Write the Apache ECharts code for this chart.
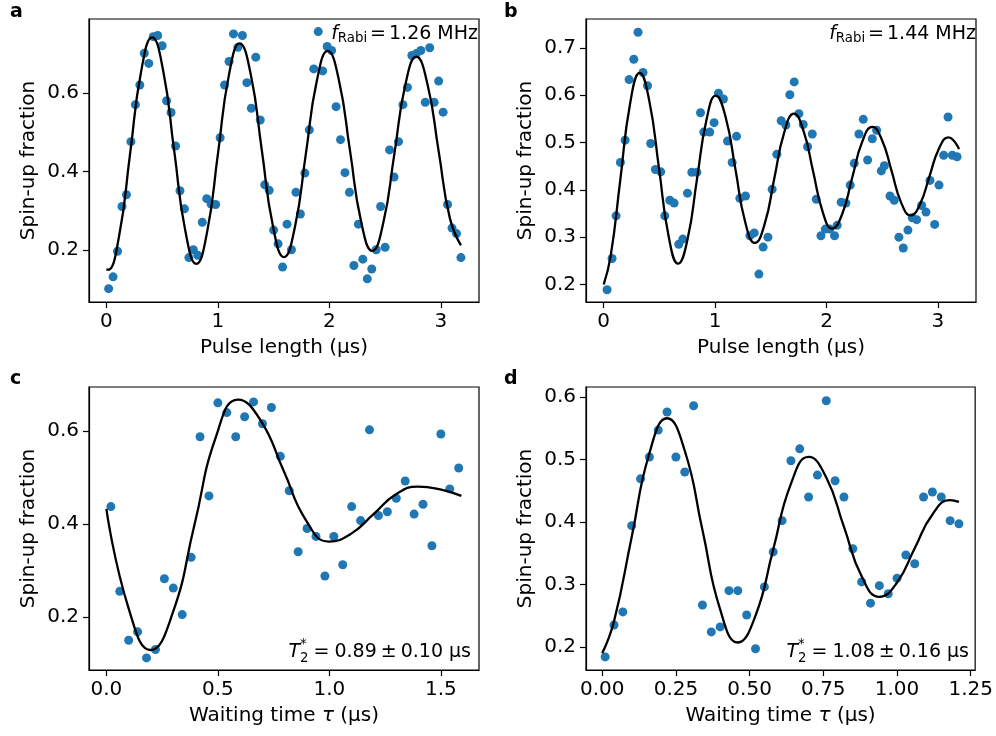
<!DOCTYPE html>
<html><head><meta charset="utf-8">
<script src="https://cdn.jsdelivr.net/npm/echarts@6/dist/echarts.min.js"></script>
<style>html,body{margin:0;padding:0;background:#fff}#c{width:996px;height:736px}</style>
</head><body><div id="c"></div>
<script>
// ---------- Panel a : Rabi, f = 1.26 MHz ----------
const aX = [0.02,0.06,0.10,0.14,0.18,0.22,0.26,0.30,0.34,0.38,
  0.42,0.46,0.50,0.54,0.58,0.62,0.66,0.70,0.74,0.78,
  0.82,0.86,0.90,0.94,0.98,1.02,1.06,1.10,1.14,1.18,
  1.22,1.26,1.30,1.34,1.38,1.42,1.46,1.50,1.54,1.58,
  1.62,1.66,1.70,1.74,1.78,1.82,1.86,1.90,1.94,1.98,
  2.02,2.06,2.10,2.14,2.18,2.22,2.26,2.30,2.34,2.38,
  2.42,2.46,2.50,2.54,2.58,2.62,2.66,2.70,2.74,2.78,
  2.82,2.86,2.90,2.94,2.98,3.02,3.06,3.10,3.14,3.18];
const aY = [0.102,0.132,0.197,0.311,0.341,0.476,0.570,0.620,0.701,0.675,
  0.743,0.746,0.720,0.580,0.550,0.465,0.351,0.305,0.181,0.201,
  0.187,0.271,0.331,0.317,0.316,0.486,0.620,0.680,0.750,0.716,
  0.746,0.626,0.561,0.691,0.531,0.366,0.352,0.251,0.216,0.157,
  0.266,0.201,0.347,0.292,0.396,0.506,0.661,0.756,0.656,0.718,
  0.708,0.565,0.481,0.397,0.347,0.161,0.266,0.177,0.127,0.152,
  0.201,0.311,0.207,0.455,0.386,0.476,0.570,0.614,0.695,0.700,
  0.708,0.576,0.715,0.576,0.630,0.551,0.316,0.256,0.242,0.181];
const aFitX = [0.0,0.015,0.114,0.213,0.312,0.41,0.509,0.608,0.708,0.807,0.904,1.001,1.098,1.195,
  1.295,1.394,1.494,1.593,1.691,1.789,1.887,1.985,2.085,2.185,2.285,2.385,
  2.484,2.583,2.681,2.78,2.88,2.98,3.08,3.18];
const aFitY = [0.151,0.150,0.236,0.446,0.655,0.741,0.657,0.453,0.249,0.165,0.247,0.446,0.644,0.726,
  0.647,0.454,0.261,0.182,0.259,0.445,0.630,0.707,0.633,0.453,0.272,0.198,
  0.270,0.445,0.620,0.692,0.622,0.452,0.282,0.212];

// ---------- Panel b : Rabi, f = 1.44 MHz ----------
const bX = [0.030,0.075,0.111,0.150,0.192,0.228,0.270,0.308,0.353,0.393,
  0.422,0.464,0.512,0.548,0.593,0.632,0.674,0.710,0.752,0.791,
  0.836,0.869,0.898,0.952,0.991,1.030,1.075,1.111,1.153,1.192,
  1.222,1.273,1.312,1.351,1.393,1.431,1.474,1.512,1.554,1.593,
  1.635,1.671,1.710,1.752,1.791,1.830,1.872,1.908,1.950,1.989,
  2.030,2.072,2.096,2.132,2.174,2.213,2.249,2.291,2.330,2.369,
  2.411,2.450,2.492,2.519,2.570,2.608,2.650,2.689,2.731,2.770,
  2.809,2.854,2.893,2.929,2.971,3.010,3.052,3.091,3.130,3.172];
const bY = [0.189,0.255,0.345,0.458,0.505,0.633,0.676,0.733,0.648,0.620,
  0.498,0.443,0.438,0.345,0.378,0.372,0.285,0.296,0.393,0.437,
  0.437,0.563,0.522,0.522,0.542,0.604,0.592,0.503,0.458,0.513,
  0.382,0.387,0.303,0.309,0.222,0.279,0.300,0.401,0.475,0.546,
  0.537,0.601,0.628,0.561,0.538,0.491,0.518,0.380,0.303,0.317,
  0.317,0.303,0.325,0.374,0.372,0.410,0.456,0.518,0.549,0.463,
  0.508,0.526,0.440,0.451,0.387,0.378,0.300,0.277,0.315,0.341,
  0.337,0.367,0.353,0.420,0.327,0.410,0.473,0.554,0.473,0.470];
const bFitX = [0.0,0.063,0.149,0.236,0.323,0.409,0.496,0.582,0.668,0.753,0.837,0.922,1.006,
  1.094,1.182,1.269,1.357,1.445,1.532,1.620,1.707,1.793,1.879,1.965,2.051,
  2.141,2.231,2.321,2.411,2.497,2.584,2.670,2.756,2.840,2.925,3.009,3.094,3.19];
const bFitY = [0.200,0.261,0.421,0.581,0.647,0.588,0.446,0.303,0.244,0.296,0.422,0.547,0.599,
  0.554,0.444,0.333,0.288,0.328,0.425,0.521,0.561,0.525,0.440,0.354,0.318,
  0.349,0.426,0.502,0.533,0.506,0.440,0.373,0.346,0.370,0.429,0.487,0.511,0.486];

// ---------- Panel c : Ramsey, T2* = 0.89 us ----------
const cX = [0.02,0.06,0.10,0.14,0.18,0.22,0.26,0.30,0.34,0.38,
  0.42,0.46,0.50,0.54,0.58,0.62,0.66,0.70,0.74,0.78,
  0.82,0.86,0.90,0.94,0.98,1.02,1.06,1.10,1.14,1.18,
  1.22,1.26,1.30,1.34,1.38,1.42,1.46,1.50,1.54,1.58];
const cY = [0.437,0.255,0.150,0.168,0.112,0.130,0.282,0.262,0.205,0.328,
  0.587,0.460,0.660,0.639,0.587,0.630,0.662,0.615,0.650,0.545,
  0.471,0.340,0.390,0.373,0.288,0.373,0.312,0.437,0.407,0.602,
  0.418,0.426,0.455,0.492,0.421,0.442,0.353,0.593,0.475,0.520];
const cFitX = [0.0,0.1,0.199,0.297,0.395,0.492,0.59,0.692,0.794,0.896,0.998,1.098,1.198,1.297,1.397,1.497,1.592];
const cFitY = [0.432,0.218,0.129,0.208,0.398,0.588,0.667,0.622,0.515,0.407,0.362,0.379,0.421,0.463,0.480,0.474,0.460];

// ---------- Panel d : Ramsey, T2* = 1.08 us ----------
const dX = [0.01,0.04,0.07,0.10,0.13,0.16,0.19,0.22,0.25,0.28,
  0.31,0.34,0.37,0.40,0.43,0.46,0.49,0.52,0.55,0.58,
  0.61,0.64,0.67,0.70,0.73,0.76,0.79,0.82,0.85,0.88,
  0.91,0.94,0.97,1.00,1.03,1.06,1.09,1.12,1.15,1.18,1.21];
const dY = [0.184,0.235,0.256,0.394,0.469,0.504,0.547,0.576,0.504,0.480,
  0.586,0.267,0.224,0.232,0.290,0.290,0.251,0.197,0.296,0.352,
  0.402,0.498,0.517,0.440,0.475,0.594,0.466,0.440,0.357,0.304,
  0.270,0.298,0.285,0.310,0.347,0.333,0.440,0.448,0.440,0.402,0.397];
const dFitX = [0.0,0.04,0.10,0.16,0.22,0.28,0.34,0.40,0.46,0.52,0.58,0.64,0.70,0.76,0.82,0.88,0.94,1.00,1.06,1.12,1.18,1.21];
const dFitY = [0.190,0.241,0.376,0.510,0.566,0.514,0.387,0.260,0.207,0.250,0.356,0.461,0.504,0.471,0.392,0.313,0.280,0.303,0.358,0.412,0.435,0.432];

// ---------- tick labels ----------
const abXTicks = [0, 1, 2, 3];
const aYTicks = [0.2, 0.4, 0.6];
const bYTicks = [0.2, 0.3, 0.4, 0.5, 0.6, 0.7];
const cXTicks = [0.0, 0.5, 1.0, 1.5];
const cYTicks = [0.2, 0.4, 0.6];
const dXTicks = [0.00, 0.25, 0.50, 0.75, 1.00, 1.25];
const dYTicks = [0.2, 0.3, 0.4, 0.5, 0.6];

const F = 'DejaVu Sans';
const FS = 20;
const AS = 19;   // annotation font size
const BLUE = '#1f77b4';

const grids = [
  {left: 89, top: 19, width: 390, height: 283},
  {left: 586, top: 19, width: 390, height: 283},
  {left: 89, top: 387, width: 390, height: 283},
  {left: 586, top: 387, width: 390, height: 283}
].map(g => Object.assign(g, {show: true, borderColor: '#000', borderWidth: 1.2, backgroundColor: 'transparent', containLabel: false}));

function axis(gi, min, max, ticks, dig, name, isY) {
  return {
    type: 'value', gridIndex: gi, min: min, max: max,
    name: name, nameLocation: 'middle', nameGap: isY ? 50 : 36,
    nameTextStyle: {fontSize: FS, color: '#000', fontFamily: F,
      rich: {n: {fontSize: FS, fontFamily: F, color: '#000'}, i: {fontSize: FS, fontFamily: F, fontStyle: 'italic', color: '#000'}}},
    axisLine: {show: true, onZero: false, lineStyle: {color: '#000', width: 1.2}},
    axisTick: {show: true, customValues: ticks, length: 6, lineStyle: {color: '#000', width: 1.2}},
    axisLabel: {show: true, customValues: ticks, formatter: v => Number(v).toFixed(dig),
      fontSize: FS, color: '#000', fontFamily: F, margin: 10},
    splitLine: {show: false}
  };
}

const xAxes = [
  axis(0, -0.156, 3.342, abXTicks, 0, 'Pulse length (µs)', false),
  axis(1, -0.159, 3.342, abXTicks, 0, 'Pulse length (µs)', false),
  axis(2, -0.078, 1.671, cXTicks, 1, '{n|Waiting time }{i|τ}{n| (µs)}', false),
  axis(3, -0.055, 1.265, dXTicks, 2, '{n|Waiting time }{i|τ}{n| (µs)}', false)
];
const yAxes = [
  axis(0, 0.068, 0.788, aYTicks, 1, 'Spin-up fraction', true),
  axis(1, 0.163, 0.761, bYTicks, 1, 'Spin-up fraction', true),
  axis(2, 0.086, 0.694, cYTicks, 1, 'Spin-up fraction', true),
  axis(3, 0.163, 0.616, dYTicks, 1, 'Spin-up fraction', true)
];

function zip(xs, ys) { return xs.map((x, i) => [x, ys[i]]); }
function scat(i, xs, ys) {
  return {type: 'scatter', xAxisIndex: i, yAxisIndex: i, data: zip(xs, ys), symbolSize: 9,
    itemStyle: {color: BLUE, opacity: 1}, z: 2, silent: true, animation: false};
}
function fit(i, xs, ys) {
  return {type: 'line', xAxisIndex: i, yAxisIndex: i, data: zip(xs, ys), smooth: 0.5, showSymbol: false,
    lineStyle: {color: '#000', width: 2.3}, z: 3, silent: true, animation: false};
}

// text helpers: pieces measured and laid out right-aligned
const cv = document.createElement('canvas').getContext('2d');
function meas(p) {
  cv.font = (p.italic ? 'italic ' : '') + (p.bold ? 'bold ' : '') + (p.size || AS) + 'px "' + F + '"';
  return cv.measureText(p.t).width;
}
function itemW(it) { return (it.gap || 0) + (it.stack ? Math.max(...it.stack.map(meas)) : meas(it)); }
function txt(p, x, baseline, defSize) {
  const s = p.size || defSize || AS;
  return {type: 'text', x: x, y: baseline + (p.dy || 0) - 0.28 * s, silent: true,
    style: {text: p.t, fontSize: s, fontFamily: F, fontStyle: p.italic ? 'italic' : 'normal',
      fontWeight: p.bold ? 'bold' : 'normal', fill: '#000', align: 'left', verticalAlign: 'middle'}};
}
function anno(xRight, baseline, items) {
  const total = items.reduce((a, it) => a + itemW(it), 0);
  let x = xRight - total;
  const out = [];
  items.forEach(it => {
    const xx = x + (it.gap || 0);
    if (it.stack) it.stack.forEach(p => out.push(txt(p, xx, baseline)));
    else out.push(txt(it, xx, baseline));
    x += itemW(it);
  });
  return out;
}
const SUB = 13.3;
function rabi(val) {
  return [{t: 'f', italic: true}, {t: 'Rabi', size: SUB, dy: 3}, {t: '=', gap: 3}, {t: val, gap: 3}, {t: ' MHz'}];
}
function t2(v, e) {
  return [{t: 'T', italic: true}, {stack: [{t: '2', size: SUB, dy: 5}, {t: '*', size: SUB, dy: -9}]},
          {t: '=', gap: 5}, {t: v, gap: 5}, {t: '±', gap: 4}, {t: e, gap: 4}, {t: ' µs'}];
}

const graphics = [].concat(
  [txt({t: 'a', bold: true, size: 19}, 10, 17), txt({t: 'b', bold: true, size: 19}, 504, 17),
   txt({t: 'c', bold: true, size: 19}, 10, 384), txt({t: 'd', bold: true, size: 19}, 504, 384)],
  anno(478, 39, rabi('1.26')),
  anno(976, 39, rabi('1.44')),
  anno(471, 657, t2('0.89', '0.10')),
  anno(969, 657, t2('1.08', '0.16'))
);

const chart = echarts.init(document.getElementById('c'), null, {renderer: 'canvas'});
chart.setOption({
  animation: false,
  backgroundColor: '#fff',
  textStyle: {fontFamily: F},
  grid: grids,
  xAxis: xAxes,
  yAxis: yAxes,
  series: [
    scat(0, aX, aY), fit(0, aFitX, aFitY),
    scat(1, bX, bY), fit(1, bFitX, bFitY),
    scat(2, cX, cY), fit(2, cFitX, cFitY),
    scat(3, dX, dY), fit(3, dFitX, dFitY)
  ],
  graphic: graphics
});
</script></body></html>
